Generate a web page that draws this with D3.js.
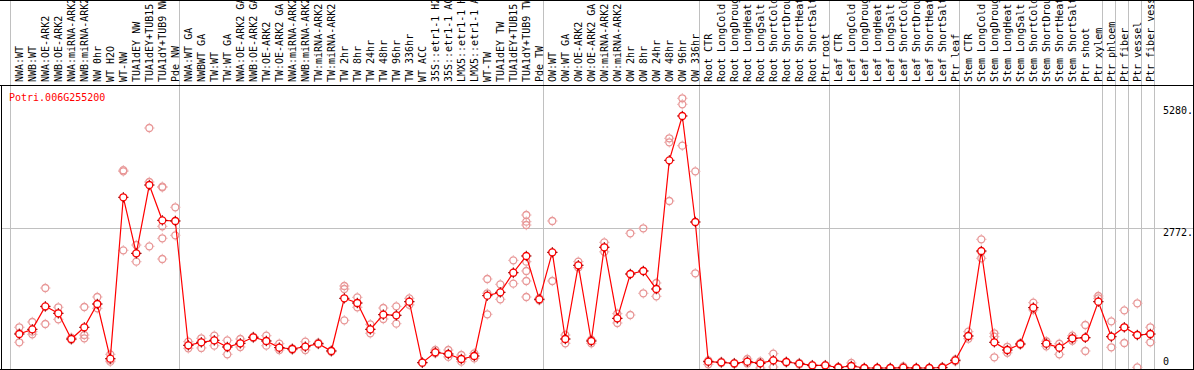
<!DOCTYPE html>
<html lang="en">
<head>
  <meta charset="UTF-8">
  <title>Potri.006G255200 expression</title>
  <script src="https://d3js.org/d3.v7.min.js"></script>
  <style>
    body {
      margin: 0;
      padding: 0;
      background-color: #fff;
    }
    svg {
      display: block;
      font-family: "DejaVu Sans Mono", "Liberation Mono", monospace;
    }
  </style>
</head>
<body>
  <svg id="chart"></svg>

  <script>
    // gene shown in the chart
    const geneId = "Potri.006G255200";

    // sample names, one per column
    const samples = [
      "NWA:WT", "NWB:WT", "NWA:OE-ARK2", "NWB:OE-ARK2", "NWA:miRNA-ARK2", "NWB:miRNA-ARK2",
      "NW 0hr", "WT H2O", "WT-NW", "TUA1dEY NW", "TUA1dEY+TUB15 NW", "TUA1dY+TUB9 NW", "Pde NW",
      "NWA:WT GA", "NWBWT GA", "TW:WT", "TW:WT GA", "NWA:OE-ARK2 GA", "NWB:OE-ARK2 GA",
      "TW:OE-ARK2", "TW:OE-ARK2 GA", "NWA:miRNA-ARK2 GA", "NWB:miRNA-ARK2 GA", "TW:miRNA-ARK2",
      "TW:miRNA-ARK2", "TW 2hr", "TW 8hr", "TW 24hr", "TW 48hr", "TW 96hr", "TW 336hr", "WT ACC",
      "35S::etr1-1 H2O", "35S::etr1-1 ACC", "LMX5::etr1-1 H2O", "LMX5::etr1-1 ACC", "WT-TW",
      "TUA1dEY TW", "TUA1dEY+TUB15 TW", "TUA1dY+TUB9 TW", "Pde TW",
      "OW:WT", "OW:WT GA", "OW:OE-ARK2", "OW:OE-ARK2 GA", "OW:miRNA-ARK2", "OW:miRNA-ARK2",
      "OW 2hr", "OW 8hr", "OW 24hr", "OW 48hr", "OW 96hr", "OW 336hr",
      "Root CTR", "Root LongCold", "Root LongDrought", "Root LongHeat", "Root LongSalt",
      "Root ShortCold", "Root ShortDrought", "Root ShortHeat", "Root ShortSalt", "Ptr root",
      "Leaf CTR", "Leaf LongCold", "Leaf LongDrought", "Leaf LongHeat", "Leaf LongSalt",
      "Leaf ShortCold", "Leaf ShortDrought", "Leaf ShortHeat", "Leaf ShortSalt", "Ptr leaf",
      "Stem CTR", "Stem LongCold", "Stem LongDrought", "Stem LongHeat", "Stem LongSalt",
      "Stem ShortCold", "Stem ShortDrought", "Stem ShortHeat", "Stem ShortSalt", "Ptr shoot",
      "Ptr xylem", "Ptr phloem", "Ptr fiber", "Ptr vessel", "Ptr fiber vessel"
    ];

    // mean expression per sample
    const means = [
      673, 766, 1221, 1083, 574, 806, 1267, 185, 3380, 2270, 3623, 2924, 2911,
      449, 509, 548, 416, 489, 608, 535, 403, 376, 422, 482, 337,
      1380, 1287, 766, 1056, 1043, 1313, 106, 310, 277, 178, 238, 1432, 1498, 1887, 2218, 1360,
      2290, 574, 2033, 535, 2390, 983, 1861, 1921, 1564, 4112, 4990, 2891,
      125, 112, 92, 125, 92, 152, 119, 86, 53, 53,
      10, 40, 0, 0, 0, 7, 0, 0, 10, 152,
      634, 2317, 509, 356, 475, 1195, 482, 403, 588, 600, 1313, 620, 806, 653, 673
    ];

    // single replicate values per sample
    const replicates = [
      [806, 509, 690], [911, 667, 720], [1584, 871, 1210], [1202, 964, 1083], [600, 560, 574],
      [1208, 653, 588], [1406, 1182, 1267], [271, 125, 160], [3894, 3916, 2330], [2435, 2105, 2270],
      [4752, 3683, 2409], [3590, 3577, 2805, 2568, 2158], [3182, 2627, 2911],
      [521, 390, 449], [588, 397, 509], [640, 442, 548], [548, 271, 416], [574, 416, 489],
      [608, 620, 595], [640, 442, 535], [482, 356, 403], [376, 390, 360], [521, 356, 422],
      [482, 500, 470], [337, 350, 320],
      [1624, 944, 1564], [1399, 1202, 1287], [865, 687, 766], [1188, 970, 1056], [1221, 878, 1043],
      [1379, 1313, 1250], [106, 100, 112], [356, 310, 290], [356, 277, 220], [257, 125, 178],
      [290, 190, 238], [1762, 1063, 1479], [1657, 1360, 1498], [2131, 1670, 1887],
      [3029, 2897, 2831, 2105, 1921, 1723, 1406], [1360, 1340, 1380],
      [2911, 1723, 2290], [653, 489, 574], [2105, 1987, 2033], [535, 489, 560], [2488, 2390, 2300],
      [1076, 891, 983], [2667, 1049, 1861], [2766, 1479, 1921], [1683, 1419, 1564],
      [4548, 4469, 3307], [5340, 5221, 4402], [3894, 1875, 2891],
      [72, 125, 150], [112, 100, 125], [92, 80, 100], [178, 125, 90], [0, 92, 130],
      [284, 20, 152], [119, 110, 125], [86, 70, 100], [53, 40, 60], [53, 60, 45],
      [10, 0, 20], [100, 40, 20], [0, 0, 0], [0, 0, 0], [0, 0, 0], [7, 30, 0], [0, 0, 0],
      [0, 0, 0], [10, 0, 20], [152, 130, 170],
      [719, 580, 634], [2548, 2172, 2300], [687, 620, 212], [420, 300, 356], [475, 460, 490],
      [1294, 1150, 1195], [530, 430, 482], [480, 271, 403], [640, 540, 588], [851, 337, 600],
      [1426, 1380, 1313], [924, 410, 620], [1142, 495, 806], [1281, 13, 653], [806, 509, 673]
    ];

    // vertical separators come after these column indexes (-1 = before the first)
    const groupBreaks = [-1, 12, 40, 52, 62, 72, 83, 84, 85, 86, 87];

    // y axis labels and the horizontal grid line
    const tickValues = [5280, 2772, 0];
    const tickLabels = ["5280.", "2772.", "0"];
    const gridValues = [2772];

    const width = 1194, height = 370;
    const headerBottom = 85, plotBottom = 369;
    const gridColor = "#c0c0c0";

    const svg = d3.select("#chart")
                  .attr("width", width)
                  .attr("height", height);

    const idx = d3.range(samples.length);
    const x = d3.scalePoint()
                .domain(idx)
                .range([19.3, 19.3 + 13 * (samples.length - 1)]);
    const step = x.step();

    const yMax = d3.max(tickValues) * 1.05;
    const y = d3.scaleLinear()
                .domain([0, yMax])
                .range([368, 88]);

    const defs = svg.append("defs");
    defs.append("clipPath").attr("id", "plot-clip")
      .append("rect")
      .attr("x", 2).attr("y", headerBottom + 1)
      .attr("width", width - 3).attr("height", plotBottom - headerBottom - 1);
    defs.append("clipPath").attr("id", "label-clip")
      .append("rect")
      .attr("x", 0).attr("y", 1)
      .attr("width", width - 1).attr("height", headerBottom - 1);

    // group separators (full height)
    const crisp = v => Math.floor(v) + 0.5;
    svg.append("g")
      .selectAll("line")
      .data(groupBreaks)
      .join("line")
      .attr("x1", d => crisp(x(0) + d * step + 4.5))
      .attr("x2", d => crisp(x(0) + d * step + 4.5))
      .attr("y1", 0)
      .attr("y2", plotBottom)
      .attr("stroke", gridColor);

    // horizontal grid
    svg.append("g")
      .selectAll("line")
      .data(gridValues)
      .join("line")
      .attr("x1", 1).attr("x2", width - 1)
      .attr("y1", d => crisp(y(d)))
      .attr("y2", d => crisp(y(d)))
      .attr("stroke", gridColor);

    // sample labels, rotated
    svg.append("g")
      .attr("clip-path", "url(#label-clip)")
      .selectAll("text")
      .data(idx)
      .join("text")
      .attr("transform", i => `translate(${x(i) + 3.5},82) rotate(-90)`)
      .attr("font-size", "10px")
      .attr("fill", "#000")
      .text(i => samples[i]);

    // plot contents
    const plot = svg.append("g").attr("clip-path", "url(#plot-clip)");

    function marker(sel, stroke, tick, fill) {
      sel.append("circle")
        .attr("r", 3.5)
        .attr("fill", fill)
        .attr("stroke", stroke)
        .attr("stroke-width", 1.3);
      [[0, -1], [0, 1], [-1, 0], [1, 0]].forEach(([dx, dy]) => {
        sel.append("line")
          .attr("x1", dx * 3.5).attr("y1", dy * 3.5)
          .attr("x2", dx * 5.2).attr("y2", dy * 5.2)
          .attr("stroke", tick)
          .attr("stroke-width", 1);
      });
    }

    // replicate points
    const reps = [];
    replicates.forEach((list, i) => list.forEach(v => reps.push({ i, v })));
    plot.append("g")
      .selectAll("g")
      .data(reps)
      .join("g")
      .attr("transform", d => `translate(${x(d.i)},${y(d.v)})`)
      .call(marker, "#e89494", "#eab0b0", "none");

    // mean line
    plot.append("path")
      .datum(idx)
      .attr("fill", "none")
      .attr("stroke", "#ff0000")
      .attr("stroke-width", 1.2)
      .attr("d", d3.line().x(i => x(i)).y(i => y(means[i])));

    // mean points
    plot.append("g")
      .selectAll("g")
      .data(idx)
      .join("g")
      .attr("transform", i => `translate(${x(i)},${y(means[i])})`)
      .call(marker, "#ff0000", "#900000", "#fff");

    // gene name
    svg.append("text")
      .attr("x", 9)
      .attr("y", 101)
      .attr("font-size", "10px")
      .attr("fill", "#ff0000")
      .text(geneId);

    // y labels on the right
    svg.append("g")
      .selectAll("text")
      .data(tickValues)
      .join("text")
      .attr("x", 1163)
      .attr("y", d => Math.min(Math.max(y(d) + 7.5, 114), 365))
      .attr("font-size", "10px")
      .attr("fill", "#000")
      .text((d, k) => tickLabels[k]);

    // frame
    const frame = svg.append("g").attr("stroke", "#000").attr("fill", "none");
    frame.append("line").attr("x1", 0).attr("x2", width).attr("y1", 0.5).attr("y2", 0.5);
    frame.append("line").attr("x1", 0).attr("x2", width).attr("y1", headerBottom + 0.5).attr("y2", headerBottom + 0.5);
    frame.append("line").attr("x1", 0).attr("x2", width).attr("y1", plotBottom + 0.5).attr("y2", plotBottom + 0.5);
    frame.append("line").attr("x1", 1.5).attr("x2", 1.5).attr("y1", headerBottom).attr("y2", plotBottom + 1);
    frame.append("line").attr("x1", width - 0.5).attr("x2", width - 0.5).attr("y1", 0).attr("y2", plotBottom + 1);
  </script>
</body>
</html>
